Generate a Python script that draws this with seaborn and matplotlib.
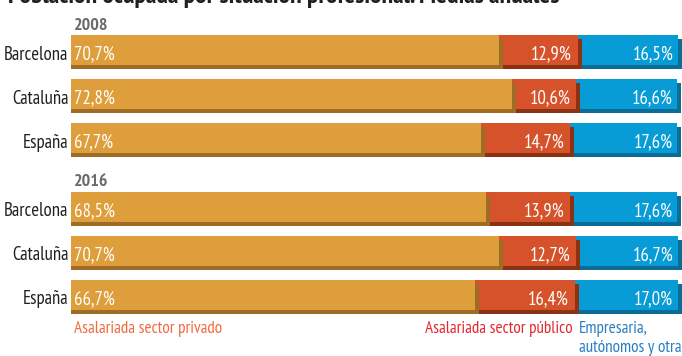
import matplotlib
matplotlib.use("Agg")
import matplotlib.pyplot as plt
import seaborn as sns
import numpy as np

sns.set_style("white")
plt.rcParams["font.family"] = ["PT Sans Narrow", "DejaVu Sans"]

# datos (%)
anios = ["2008", "2016"]
regiones = ["Barcelona", "Cataluña", "España"]
privado = [70.7, 72.8, 67.7, 68.5, 70.7, 66.7]
publico = [12.9, 10.6, 14.7, 13.9, 12.7, 16.4]
empresaria = [16.5, 16.6, 17.6, 17.6, 16.7, 17.0]

col_priv, sombra_priv = "#DE9E3B", "#9E6C25"
col_pub, sombra_pub = "#D5522A", "#8A3213"
col_emp, sombra_emp = "#079CD6", "#0B6D96"

# posiciones en pixeles (eje y invertido)
filas = np.arange(6)
ypos = 50 + 44 * filas + 25 * (filas // 3)
prof_y = 4          # profundidad 3D en px
prof_x = 4 / 6.06   # profundidad 3D en %

acum_pub = np.array(privado) + np.array(publico)
acum_emp = acum_pub + np.array(empresaria)

fig = plt.figure(figsize=(6.82, 3.56), dpi=100)
ax = fig.add_axes([0, 0, 1, 1])

capas = [
    (acum_emp, col_emp, sombra_emp),
    (acum_pub, col_pub, sombra_pub),
    (np.array(privado), col_priv, sombra_priv),
]
# se dibuja de derecha a izquierda para que el lateral 3D quede encima
for valores, color, sombra in capas:
    sns.barplot(x=valores + prof_x, y=ypos + prof_y, orient="h", native_scale=True,
                width=30 / 44, color=sombra, saturation=1, linewidth=0,
                errorbar=None, ax=ax)
    sns.barplot(x=valores, y=ypos, orient="h", native_scale=True,
                width=30 / 44, color=color, saturation=1, linewidth=0,
                errorbar=None, ax=ax)

fmt = lambda v: f"{v:.1f}%".replace(".", ",")
fs = 13.5
for i, y in enumerate(ypos):
    base = y + 9.5
    ax.text(-0.4, base, regiones[i % 3], ha="right", va="baseline",
            fontsize=fs, color="#231f20")
    ax.text(0.5, base, fmt(privado[i]), ha="left", va="baseline",
            fontsize=fs, color="white")
    ax.text(acum_pub[i] - 1.0, base, fmt(publico[i]), ha="right", va="baseline",
            fontsize=fs, color="white")
    ax.text(acum_emp[i] - 0.7, base, fmt(empresaria[i]), ha="right", va="baseline",
            fontsize=fs, color="white")

ax.text(0.4, 30, anios[0], ha="left", va="baseline", fontsize=13,
        fontweight="bold", color="#6b6b6b")
ax.text(0.4, 186.5, anios[1], ha="left", va="baseline", fontsize=13,
        fontweight="bold", color="#6b6b6b")

ax.text(-10.4, 3, "Población ocupada por situación profesional. Medias anuales",
        ha="left", va="baseline", fontsize=18.5, fontweight="bold", color="#231f20")

fs_ley = 12.3
ax.text(0.5, 333, "Asalariada sector privado", ha="left", va="baseline",
        fontsize=fs_ley, color="#F26A3E")
ax.text(82.8, 333, "Asalariada sector público", ha="right", va="baseline",
        fontsize=fs_ley, color="#E42830")
ax.text(83.8, 333, "Empresaria,", ha="left", va="baseline",
        fontsize=fs_ley, color="#2A7DC2")
ax.text(83.8, 352, "autónomos y otra", ha="left", va="baseline",
        fontsize=fs_ley, color="#2A7DC2")

ax.set_xlim(-71 / 6.06, (682 - 71) / 6.06)
ax.set_ylim(356, 0)
ax.axis("off")

fig.savefig("out.png", dpi=100)
